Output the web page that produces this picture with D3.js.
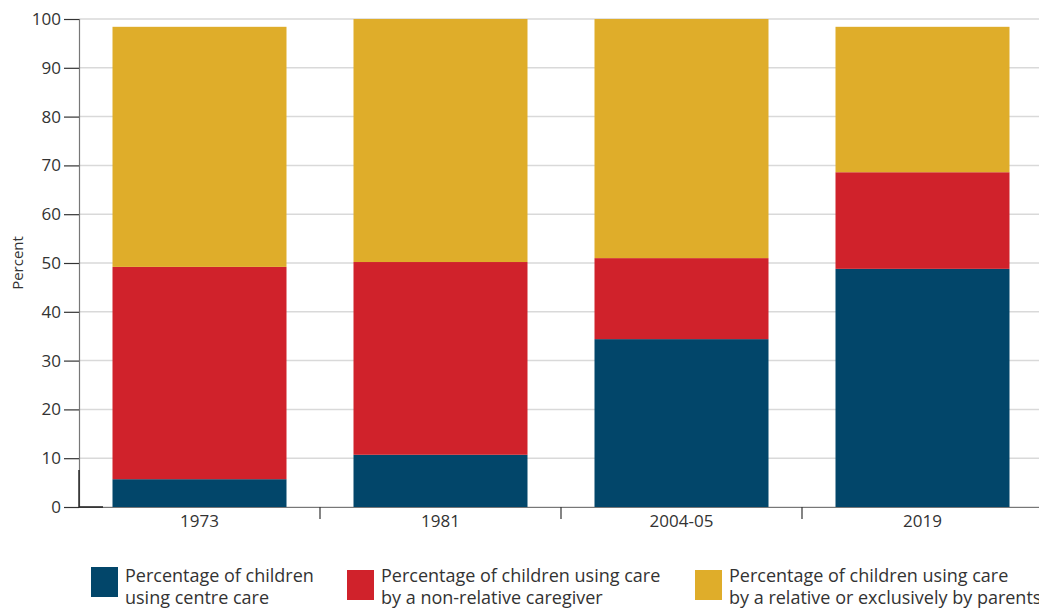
<!DOCTYPE html>
<html>
<head>
<meta charset="utf-8">
<script src="https://cdn.jsdelivr.net/npm/d3@7"></script>
<style>
  body { margin: 0; background: #fff; }
  svg { display: block; font-family: "Open Sans", sans-serif; }
</style>
</head>
<body>
<div id="chart"></div>
<script>
// Chart data
var years = ["1973", "1981", "2004-05", "2019"];
var centreCare = [5.7, 10.7, 34.4, 48.8];
var nonRelative = [43.5, 39.5, 16.6, 19.8];
var relativeParents = [49.2, 49.8, 49.0, 29.8];
var yTicks = [0, 10, 20, 30, 40, 50, 60, 70, 80, 90, 100];
var seriesNames = [
  ["Percentage of children", "using centre care"],
  ["Percentage of children using care", "by a non-relative caregiver"],
  ["Percentage of children using care", "by a relative or exclusively by parents"]
];
var colors = ["#02466a", "#d0222b", "#dfad2a"];

var svgWidth = 1039;
var svgHeight = 609;

var margin = { top: 19, right: 0, bottom: 102, left: 79 };
var chartHeight = svgHeight - margin.top - margin.bottom;

var svg = d3.select("#chart")
  .append("svg")
  .attr("width", svgWidth)
  .attr("height", svgHeight);

var chartGroup = svg.append("g")
  .attr("transform", `translate(${margin.left}, ${margin.top})`);

// scales
var xScale = d3.scaleBand()
  .domain(years)
  .range([0, 964])
  .paddingInner(0.278)
  .paddingOuter(0.139);

var yScale = d3.scaleLinear()
  .domain([0, 100])
  .range([chartHeight, 0]);

// gridlines
chartGroup.selectAll(".grid")
  .data(yTicks)
  .enter()
  .append("line")
  .attr("x1", 0)
  .attr("x2", svgWidth - margin.left)
  .attr("y1", d => yScale(d))
  .attr("y2", d => yScale(d))
  .attr("stroke", "#d9d9d9")
  .attr("stroke-width", 1.5);

// stacked data
var table = years.map(function(y, i) {
  return { year: y, a: centreCare[i], b: nonRelative[i], c: relativeParents[i] };
});
var stack = d3.stack().keys(["a", "b", "c"]);
var layers = stack(table);

chartGroup.selectAll(".layer")
  .data(layers)
  .enter()
  .append("g")
  .attr("fill", (d, i) => colors[i])
  .selectAll("rect")
  .data(d => d)
  .enter()
  .append("rect")
  .attr("x", d => xScale(d.data.year))
  .attr("width", xScale.bandwidth())
  .attr("y", d => yScale(d[1]))
  .attr("height", d => yScale(d[0]) - yScale(d[1]));

// y axis
var leftAxis = d3.axisLeft(yScale).tickValues(yTicks).tickSize(15).tickPadding(3);
var yAxisG = chartGroup.append("g").call(leftAxis);
yAxisG.select(".domain").attr("stroke", "#777").attr("stroke-width", 1.2);
yAxisG.selectAll(".tick line").attr("stroke", "#333").attr("stroke-width", 1.2);
yAxisG.selectAll(".tick text")
  .attr("fill", "#333")
  .style("font-size", "17px")
  .style("font-family", "'Open Sans', sans-serif");

// x axis
var bottomAxis = d3.axisBottom(xScale).tickSize(0).tickPadding(8);
var xAxisG = chartGroup.append("g")
  .attr("transform", `translate(0, ${chartHeight})`)
  .call(bottomAxis);
xAxisG.select(".domain").attr("stroke", "#777").attr("stroke-width", 1.2);
xAxisG.selectAll(".tick text")
  .attr("fill", "#333")
  .style("font-size", "17px")
  .style("font-family", "'Open Sans', sans-serif");

// separators between categories
chartGroup.selectAll(".sep")
  .data(years.slice(1))
  .enter()
  .append("line")
  .attr("x1", d => xScale(d) - xScale.step() * xScale.paddingInner() / 2)
  .attr("x2", d => xScale(d) - xScale.step() * xScale.paddingInner() / 2)
  .attr("y1", chartHeight)
  .attr("y2", chartHeight + 12)
  .attr("stroke", "#333")
  .attr("stroke-width", 1.2);

// corner mark
chartGroup.append("path")
  .attr("d", `M0,${chartHeight - 37}V${chartHeight}H24`)
  .attr("fill", "none")
  .attr("stroke", "#222")
  .attr("stroke-width", 1.4);

// y label
svg.append("text")
  .attr("transform", `translate(23, ${margin.top + chartHeight / 2}) rotate(-90)`)
  .attr("text-anchor", "middle")
  .attr("fill", "#333")
  .style("font-size", "15px")
  .text("Percent");

// legend
var legendX = [91, 347, 695];
var legend = svg.selectAll(".legend")
  .data(seriesNames)
  .enter()
  .append("g")
  .attr("transform", (d, i) => `translate(${legendX[i]}, 567)`);

legend.append("rect")
  .attr("width", 27)
  .attr("height", 30)
  .attr("y", (d, i) => i === 0 ? 0 : 3)
  .attr("fill", (d, i) => colors[i]);

legend.append("text")
  .attr("x", 34)
  .attr("y", 15)
  .attr("fill", "#333")
  .style("font-size", "18px")
  .selectAll("tspan")
  .data(d => d)
  .enter()
  .append("tspan")
  .attr("x", 34)
  .attr("dy", (d, i) => i === 0 ? 0 : 22)
  .text(d => d);
</script>
</body>
</html>
